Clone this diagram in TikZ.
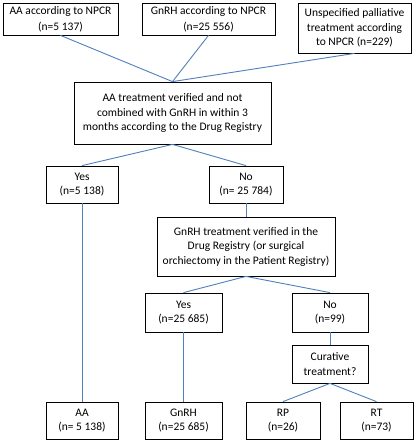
\documentclass[tikz,border=0pt]{standalone}
\usepackage{fontspec}
\setmainfont{Carlito}
\definecolor{linkblue}{HTML}{4F81BD}
\begin{document}
\begin{tikzpicture}[x=1pt,y=-1pt,
  box/.style={draw=black,line width=0.8pt,align=center,inner sep=0pt,
    font=\fontsize{11.5}{14.5}\selectfont,fill=white},
  link/.style={draw=linkblue,line width=0.9pt}]
\path[use as bounding box,fill=white] (0,0) rectangle (415,440);
\node[box,minimum width=115,minimum height=32,font=\fontsize{11.5}{16}\selectfont] (aa1) at (60.5,19) {AA according to NPCR\\(n=5 137)};
\node[box,minimum width=133,minimum height=32,font=\fontsize{11.5}{16}\selectfont] (gn1) at (208.5,19) {GnRH according to NPCR\\(n=25 556)};
\node[box,minimum width=113,minimum height=50] (un1) at (354.5,28) {Unspecified palliative\\treatment according\\to NPCR (n=229)};
\node[box,minimum width=197,minimum height=62] (main) at (172.5,113) {AA treatment verified and not\\combined with GnRH in within 3\\months according to the Drug Registry};
\node[box,minimum width=72,minimum height=37] (yes1) at (82,184.5) {Yes\\(n=5 138)};
\node[box,minimum width=74,minimum height=37] (no1) at (246,184.5) {No\\(n= 25 784)};
\node[box,minimum width=178,minimum height=59] (gv) at (246,246.5) {GnRH treatment verified in the\\Drug Registry (or surgical\\orchiectomy in the Patient Registry)};
\node[box,minimum width=77,minimum height=39] (yes2) at (183.5,312.5) {Yes\\(n=25 685)};
\node[box,minimum width=76,minimum height=39] (no2) at (330,312.5) {No\\(n=99)};
\node[box,minimum width=76,minimum height=38] (cur) at (330,364) {Curative\\treatment?};
\node[box,minimum width=72,minimum height=37] (aaf) at (82,420.5) {AA\\(n= 5 138)};
\node[box,minimum width=77,minimum height=37] (gnf) at (183.5,420.5) {GnRH\\(n=25 685)};
\node[box,minimum width=74,minimum height=37] (rp) at (283,420.5) {RP\\(n=26)};
\node[box,minimum width=73,minimum height=37] (rt) at (376.5,420.5) {RT\\(n=73)};
\draw[link] (aa1.south) -- (main.north);
\draw[link] (gn1.south) -- (main.north);
\draw[link] (un1.south) -- (main.north);
\draw[link] (main.south) -- (yes1.north);
\draw[link] (main.south) -- (no1.north);
\draw[link] (no1.south) -- (gv.north);
\draw[link] (yes1.south) -- (aaf.north);
\draw[link] (gv.south) -- (yes2.north);
\draw[link] (gv.south) -- (no2.north);
\draw[link] (yes2.south) -- (gnf.north);
\draw[link] (no2.south) -- (cur.north);
\draw[link] (cur.south) -- (rp.north);
\draw[link] (cur.south) -- (rt.north);
\end{tikzpicture}
\end{document}
